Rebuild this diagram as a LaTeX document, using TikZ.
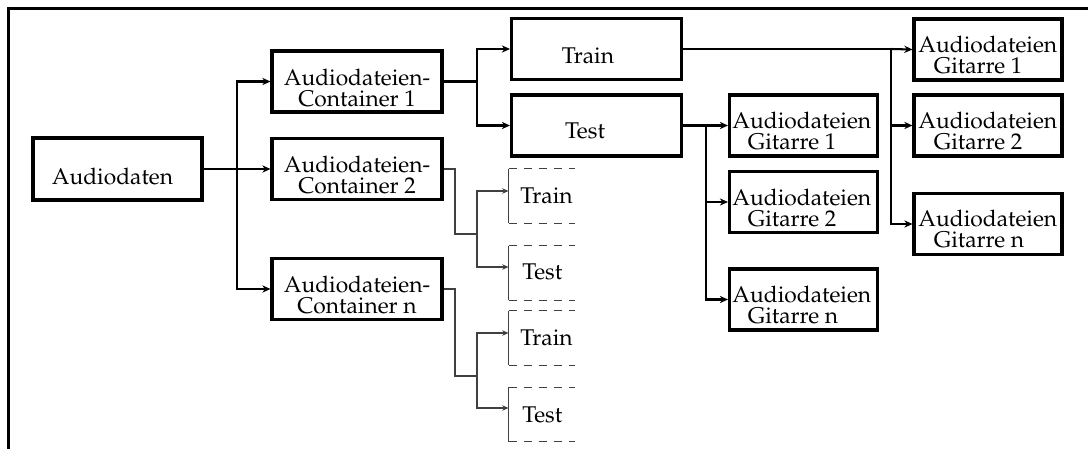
\documentclass[tikz,border=0pt]{standalone}
\usepackage[T1]{fontenc}
\usepackage{mathpazo}
\usetikzlibrary{arrows.meta,calc}
\begin{document}
\def\pu{0.01544cm}
\begin{tikzpicture}[x=0.01544cm, y=-0.01544cm,
  box/.style 2 args={draw, line width=1.35pt, minimum width=#1*\pu,
    minimum height=#2*\pu, inner sep=0pt},
  openbox/.style={minimum width=66*\pu, minimum height=54*\pu, inner sep=0pt},
  lbl/.style={inner sep=0pt, font=\fontsize{10pt}{9pt}\selectfont},
  conn/.style={line width=0.9pt},
  arr/.style={conn, -{Stealth[length=3.6pt,width=3.2pt]}},
  thinconn/.style={line width=0.45pt, black!75},
  thinarr/.style={thinconn, -{Stealth[length=2.8pt,width=2.4pt]}},
  dashside/.style={thinconn, dash pattern=on 3.6pt off 3pt}]

% canvas and outer frame (cut off at the right and bottom)
\useasboundingbox (0,0) rectangle (1088,448);
\begin{scope}
  \clip (0,0) rectangle (1088,448);
  \draw[line width=1.3pt] (8.5,8.5) rectangle (1120,480);
\end{scope}

% source
\node[box={169}{62}] (aud) at (117.5,169) {};
\node[lbl, anchor=base] (aud-t) at (112.5,184) {Audiodaten};

% containers (a two-line label sits on the baseline of its last line)
\node[box={170}{61}] (c1) at (357,81.5) {};
\node[box={170}{61}] (c2) at (357,169) {};
\node[box={170}{61}] (cn) at (357,289) {};
\node[lbl, anchor=base, align=center] (c1-t) at (357,106) {Audiodateien-\\Container 1};
\node[lbl, anchor=base, align=center] (c2-t) at (357,193) {Audiodateien-\\Container 2};
\node[lbl, anchor=base, align=center] (cn-t) at (357,313) {Audiodateien-\\Container n};

% split of container 1
\node[box={170}{61}] (train) at (596.5,49) {};
\node[box={170}{61}] (test) at (596.5,125.5) {};
\node[lbl, anchor=base] (train-t) at (588,63) {Train};
\node[lbl, anchor=base] (test-t) at (585,138) {Test};

% guitar files of the training part
\node[box={148}{61}] (g1r) at (988,49.5) {};
\node[box={148}{61}] (g2r) at (988,125.5) {};
\node[box={148}{61}] (gnr) at (988,224) {};
\node[lbl, anchor=base west, align=left] (g1r-t) at (918,73) {Audiodateien\\\hspace*{6.8pt}Gitarre 1};
\node[lbl, anchor=base west, align=left] (g2r-t) at (918,149) {Audiodateien\\\hspace*{6.8pt}Gitarre 2};
\node[lbl, anchor=base west, align=left] (gnr-t) at (918,247) {Audiodateien\\\hspace*{6.8pt}Gitarre n};

% guitar files of the test part
\node[box={148}{61}] (g1m) at (803.5,125.5) {};
\node[box={148}{61}] (g2m) at (803.5,202) {};
\node[box={148}{61}] (gnm) at (803.5,299.5) {};
\node[lbl, anchor=base west, align=left] (g1m-t) at (732,149) {Audiodateien\\\hspace*{6.8pt}Gitarre 1};
\node[lbl, anchor=base west, align=left] (g2m-t) at (732,226) {Audiodateien\\\hspace*{6.8pt}Gitarre 2};
\node[lbl, anchor=base west, align=left] (gnm-t) at (732,323) {Audiodateien\\\hspace*{6.8pt}Gitarre n};

% open (dashed) splits of containers 2 and n
\node[openbox] (dtr2) at (542,196) {};
\node[openbox] (dte2) at (542,273) {};
\node[openbox] (dtrn) at (542,338) {};
\node[openbox] (dten) at (542,414.5) {};
\foreach \b in {dtr2,dte2,dtrn,dten}{
  \draw[thinconn] (\b.north west) -- (\b.south west);
  \draw[dashside] (\b.north west) -- (\b.north east);
  \draw[dashside] (\b.south west) -- (\b.south east);
}
\node[lbl, anchor=base west] (dtr2-t) at (520,203) {Train};
\node[lbl, anchor=base west] (dte2-t) at (522,279) {Test};
\node[lbl, anchor=base west] (dtrn-t) at (520,345) {Train};
\node[lbl, anchor=base west] (dten-t) at (522,422) {Test};

% junction points
\coordinate (b0) at (237,169);
\coordinate (b1) at (477,81.5);
\coordinate (b2) at (891,49);
\coordinate (b3) at (706,125.5);
\coordinate (k2) at (455,234);
\coordinate (j2) at (477,234);
\coordinate (kn) at (455,376);
\coordinate (jn) at (477,376);
\coordinate (dtr2-in) at ($(dtr2.west)+(0,-5)$);
\coordinate (dte2-in) at ($(dte2.west)+(0,-6)$);
\coordinate (dtrn-in) at ($(dtrn.west)+(0,-5)$);
\coordinate (dten-in) at ($(dten.west)+(0,-6.5)$);

% main connectors
\draw[conn] (aud.east) -- (b0);
\draw[arr] (b0) |- (c1.west);
\draw[arr] (b0) -- (c2.west);
\draw[arr] (b0) |- (cn.west);

\draw[conn] (c1.east) -- (b1);
\draw[arr] (b1) |- (train.west);
\draw[arr] (b1) |- (test.west);

\draw[conn] (train.east) -- (b2);
\draw[arr] (b2) -- (g1r.west);
\draw[arr] (b2) |- (g2r.west);
\draw[arr] (b2) |- (gnr.west);

\draw[conn] (test.east) -- (b3);
\draw[arr] (b3) -- (g1m.west);
\draw[arr] (b3) |- (g2m.west);
\draw[arr] (b3) |- (gnm.west);

% thin connectors
\draw[thinconn] (c2.east) -| (k2) -- (j2);
\draw[thinarr] (j2) |- (dtr2-in);
\draw[thinarr] (j2) |- (dte2-in);
\draw[thinconn] (cn.east) -| (kn) -- (jn);
\draw[thinarr] (jn) |- (dtrn-in);
\draw[thinarr] (jn) |- (dten-in);
\end{tikzpicture}
\end{document}
